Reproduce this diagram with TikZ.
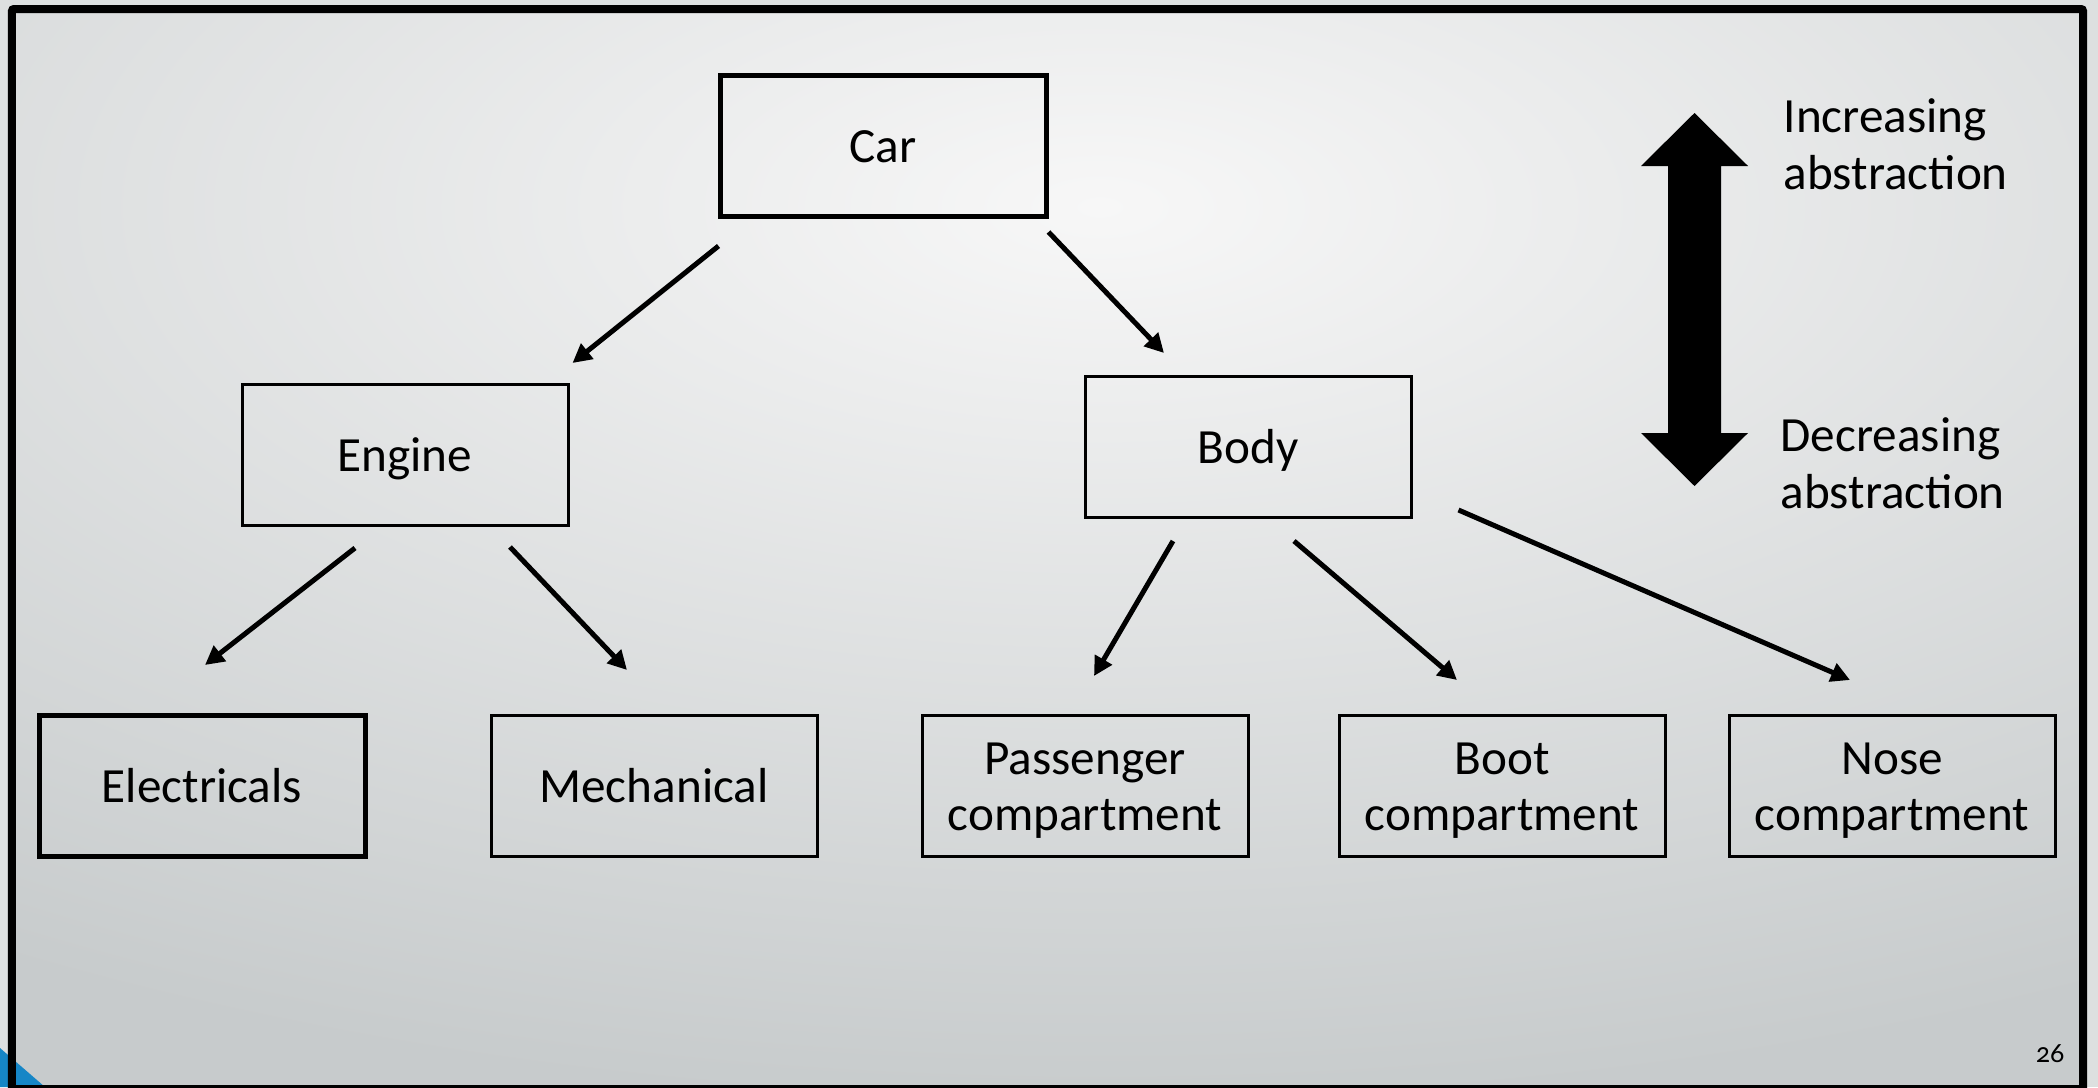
\documentclass[tikz,border=0pt]{standalone}
\usepackage{fontspec}
\setmainfont{Carlito}
\newfontfamily\pagenumfont[Numbers=OldStyle]{Carlito}
\usetikzlibrary{arrows.meta}

\definecolor{slidebg}{HTML}{C7CBCC}
\definecolor{slidehi}{HTML}{F7F7F7}
\definecolor{slideout}{HTML}{DDE0E0}
\definecolor{cornerblue}{HTML}{1686C6}
\newcommand{\bstrut}{\vrule height12.8pt depth3.4pt width0pt}

\begin{document}
\begin{tikzpicture}[>={Triangle[length=0.19cm,width=0.19cm]},
    blk/.style={draw, line width=0.03cm, minimum width=3.26cm, minimum height=1.41cm, inner ysep=0pt, align=center, font=\fontsize{14}{16.2}\selectfont},
    blkthick/.style={blk, line width=0.05cm},
    link/.style={->, line width=0.05cm},
    side/.style={anchor=west, inner sep=0pt, align=left, font=\fontsize{14}{16.2}\selectfont}]
    \useasboundingbox (0,0) rectangle (20.98,10.87);

    % slide background
    \fill[slideout] (0,0) rectangle (20.98,10.87);
    \begin{scope}
      \clip (0.12,-0.1) rectangle (20.83,10.78);
      \fill[slidebg] (0.12,-0.1) rectangle (20.83,10.78);
      \shade[inner color=slidehi, outer color=slidebg] (11,8.8) ellipse (20 and 9);
    \end{scope}
    \fill[cornerblue] (0,0) -- (0.45,0) -- (0,0.39) -- cycle;
    \draw[line width=0.08cm, rounded corners=0.02cm] (0.12,-0.02) rectangle (20.83,10.78);

    % hierarchy
    \node[blkthick] (car) at (8.83,9.41) {\bstrut Car};
    \node[blk] (engine) at (4.05,6.32) {\bstrut Engine};
    \node[blk] (body) at (12.48,6.40) {\bstrut Body};
    \node[blkthick] (elec) at (2.02,3.01) {\bstrut Electricals};
    \node[blk] (mech) at (6.54,3.01) {\bstrut Mechanical};
    \node[blk] (pass) at (10.85,3.01) {\bstrut Passenger\\\bstrut compartment};
    \node[blk] (boot) at (15.02,3.01) {\bstrut Boot\\\bstrut compartment};
    \node[blk] (nose) at (18.92,3.01) {\bstrut Nose\\\bstrut compartment};

    \draw[link] ([shift={(0.01,-0.27)}]car.south west) -- ([shift={(0.03,0.20)}]engine.north east);
    \draw[link] ([shift={(0,-0.13)}]car.south east) -- ([shift={(-0.84,0.22)}]body.north);
    \draw[link] ([shift={(-0.50,-0.21)}]engine.south) -- ([shift={(0.03,0.48)}]elec.north);
    \draw[link] ([shift={(1.05,-0.20)}]engine.south) -- ([shift={(-0.27,0.44)}]mech.north);
    \draw[link] ([shift={(-0.75,-0.22)}]body.south) -- ([shift={(0.09,0.38)}]pass.north);
    \draw[link] ([shift={(0.46,-0.22)}]body.south) -- ([shift={(-0.45,0.34)}]boot.north);
    \draw[link] ([shift={(0.46,0.09)}]body.south east) -- ([shift={(-0.42,0.34)}]nose.north);

    % abstraction scale
    \fill (16.945,9.74) -- (17.48,9.21) -- (17.21,9.21) -- (17.21,6.54) -- (17.48,6.54) -- (16.945,6.01)
      -- (16.41,6.54) -- (16.68,6.54) -- (16.68,9.21) -- (16.41,9.21) -- cycle;
    \node[side] (upper) at (17.83,9.43) {Increasing\\abstraction};
    \node[side] (lower) at (17.80,6.24) {Decreasing\\abstraction};

    \node[font=\pagenumfont\fontsize{8}{9.6}\selectfont] (pagenum) at (20.50,0.33) {26};
  \end{tikzpicture}
\end{document}
